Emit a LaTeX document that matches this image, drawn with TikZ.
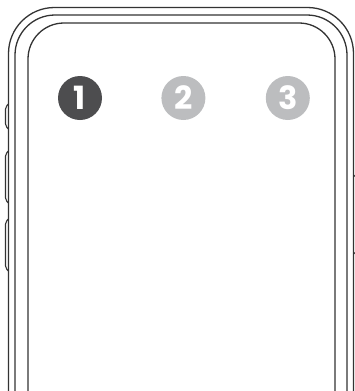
\documentclass[tikz,border=0pt]{standalone}
\usepackage{fontspec}
\newfontfamily\stepfont{Poppins}
\usepackage{xcolor}
\usepackage{tikz}
\usetikzlibrary{positioning}

\definecolor{stepdark}{HTML}{4D4D4F}
\definecolor{steplight}{HTML}{BCBDBF}
\definecolor{caseline}{HTML}{333333}

\begin{document}
\begin{tikzpicture}[
    x=1pt, y=-1pt,
    caseline/.style={draw=caseline, line width=1.3pt},
    stepdot/.style={circle, minimum size=44pt, inner sep=0pt, text=white,
        font=\stepfont\bfseries\fontsize{32}{32}\selectfont},
    every node/.style={font=\small}
]
\useasboundingbox (0,0) rectangle (355,391);
\clip (0,0) rectangle (355,391);

% phone body, three outlines
\draw[caseline, rounded corners=46pt] (8.5,400) -- (8.5,7.5) -- (353.5,7.5) -- (353.5,400);
\draw[caseline, rounded corners=40pt] (15,400) -- (15,15) -- (347,15) -- (347,400);
\draw[caseline, rounded corners=36pt] (28,400) -- (28,23) -- (335,23) -- (335,400);

% side buttons
\draw[caseline, line width=1.1pt, rounded corners=2pt] (8.5,104) -- (5.5,107) -- (5.5,126) -- (8.5,129);
\draw[caseline, line width=1.1pt, rounded corners=2pt] (8.5,151) -- (5.5,154) -- (5.5,200) -- (8.5,203);
\draw[caseline, line width=1.1pt, rounded corners=2pt] (8.5,219) -- (5.5,222) -- (5.5,268) -- (8.5,271);
\draw[caseline, line width=1.1pt, rounded corners=2pt] (353.5,175) -- (357,178) -- (357,251) -- (353.5,254);

% steps
\node[stepdot, fill=stepdark] (step1) at (80,98) {1};
\node[stepdot, fill=steplight, right=59pt of step1] (step2) {2};
\node[stepdot, fill=steplight, right=60pt of step2] (step3) {3};
\end{tikzpicture}
\end{document}
